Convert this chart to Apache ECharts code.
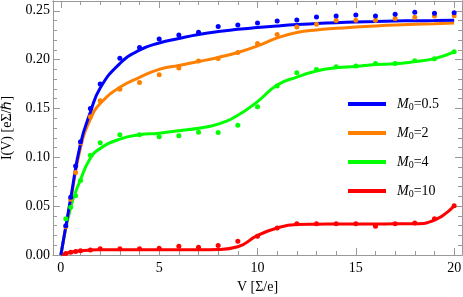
<!DOCTYPE html>
<html><head><meta charset="utf-8">
<script src="https://cdn.jsdelivr.net/npm/echarts@6/dist/echarts.min.js"></script>
<style>html,body{margin:0;padding:0;background:#fff}#c{width:463px;height:297px}</style>
</head><body><div id="c"></div><script>
// ---- data ----
var seriesNames = ['M0=0.5', 'M0=2', 'M0=4', 'M0=10'];
var legendLabels = ['0.5', '2', '4', '10'];
var colors = ['#0000ff', '#ff8000', '#00ff00', '#ff0000'];

var vDots = [0.25,0.5,0.75,1,1.5,2,3,4,5,6,7,8,9,10,11,12,13,14,15,16,17,18,19,20];
var dotsBlue   = [0.030,0.059,0.091,0.116,0.150,0.175,0.2015,0.2125,0.221,0.2253,0.228,0.234,0.2355,0.2376,0.2396,0.2406,0.2437,0.2447,0.2457,0.2447,0.2464,0.2485,0.2474,0.248];
var dotsOrange = [0.029,0.057,0.0845,0.115,0.1416,0.158,0.1696,0.1767,0.1845,0.1913,0.1985,0.2012,0.2073,0.2165,0.2257,0.2335,0.2362,0.240,0.2403,0.2403,0.242,0.2434,0.2447,0.245];
var dotsGreen  = [0.037,0.049,0.0607,0.0763,0.102,0.115,0.123,0.123,0.121,0.122,0.1257,0.1253,0.1328,0.1518,0.173,0.1865,0.190,0.1927,0.1934,0.196,0.196,0.1988,0.2008,0.208];
var dotsRed    = [0.0015,0.0028,0.0037,0.0043,0.005,0.0065,0.0065,0.0065,0.007,0.009,0.008,0.0097,0.0141,0.0192,0.0277,0.0321,0.0321,0.0321,0.0321,0.0294,0.0321,0.0328,0.037,0.0505];

var vLine = [0,0.5,1,1.5,2,3,4,5,6,7,8,9,10,11,12,13,14,15,16,17,18,19,20];
var lineBlue   = [0,0.058,0.114,0.146,0.171,0.196,0.2097,0.217,0.2216,0.2257,0.2288,0.231,0.2328,0.2345,0.2359,0.2369,0.2378,0.2385,0.239,0.2395,0.2398,0.240,0.2403];
var lineOrange = [0,0.056,0.110,0.139,0.155,0.1716,0.1818,0.190,0.194,0.198,0.2022,0.2073,0.214,0.2222,0.2277,0.2304,0.232,0.2333,0.2345,0.2355,0.2362,0.2368,0.2375];
var lineGreen  = [0,0.049,0.077,0.099,0.109,0.1186,0.123,0.1247,0.1273,0.1298,0.134,0.143,0.157,0.174,0.182,0.1883,0.1916,0.193,0.195,0.1957,0.198,0.201,0.208];
var lineRed    = [0,0.0028,0.0043,0.005,0.0053,0.0055,0.0055,0.0055,0.0055,0.0055,0.0057,0.0084,0.020,0.0277,0.0311,0.0315,0.0317,0.0318,0.0318,0.0319,0.032,0.0356,0.0505];

var xMajor = [0,5,10,15,20];
var xMinor = [0,1,2,3,4,5,6,7,8,9,10,11,12,13,14,15,16,17,18,19,20];
var yMajor = [0,0.05,0.10,0.15,0.20,0.25];
var yMinor = [0,0.01,0.02,0.03,0.04,0.05,0.06,0.07,0.08,0.09,0.10,0.11,0.12,0.13,0.14,0.15,0.16,0.17,0.18,0.19,0.20,0.21,0.22,0.23,0.24,0.25,0.26];

var xTitle = 'V [Σ/e]';
var yTitle = 'I(V) [eΣ/ℏ]';

// ---- chart ----
var FONT = 'Liberation Serif';
var frameColor = '#999';
var lines = [lineBlue, lineOrange, lineGreen, lineRed];
var dots = [dotsBlue, dotsOrange, dotsGreen, dotsRed];

function zip(xs, ys){ return xs.map(function(x,i){ return [x, ys[i]]; }); }

function xAx(pos, ticks, len, labels, withName){
  return {
    type:'value', position:pos, min:-0.4, max:20.4,
    axisLine:{show:true, onZero:false, lineStyle:{color:frameColor, width:1}},
    axisTick:{show:true, inside:true, length:len, customValues:ticks, lineStyle:{color:frameColor}},
    axisLabel:{show:!!labels, customValues:xMajor, margin:6, color:'#000', fontFamily:FONT, fontSize:14},
    splitLine:{show:false},
    name: withName ? xTitle : '', nameLocation:'middle', nameGap:25,
    nameTextStyle:{color:'#000', fontFamily:FONT, fontSize:14}
  };
}
function yAx(pos, ticks, len, labels, withName){
  return {
    type:'value', position:pos, min:0, max:0.26,
    axisLine:{show:true, onZero:false, lineStyle:{color:frameColor, width:1}},
    axisTick:{show:true, inside:true, length:len, customValues:ticks, lineStyle:{color:frameColor}},
    axisLabel:{show:!!labels, customValues:yMajor, margin:3, color:'#000', fontFamily:FONT, fontSize:14,
      formatter:function(v){ return v.toFixed(2); }},
    splitLine:{show:false},
    name: withName ? yTitle : '', nameLocation:'middle', nameGap:36,
    nameTextStyle:{color:'#000', fontFamily:FONT, fontSize:14}
  };
}

var series = [];
for (var k = 3; k >= 0; k--) {
  series.push({
    name: seriesNames[k], type:'line', data: zip(vLine, lines[k]),
    smooth:0.5, showSymbol:false, symbol:'none',
    lineStyle:{color:colors[k], width:3}, itemStyle:{color:colors[k]},
    z: 2, silent:true
  });
}
for (var k2 = 3; k2 >= 0; k2--) {
  series.push({
    name: seriesNames[k2] + ' data', type:'scatter', data: zip(vDots, dots[k2]),
    symbol:'circle', symbolSize:5, itemStyle:{color:colors[k2], opacity:1},
    z: 3, silent:true
  });
}

var labelMap = {};
seriesNames.forEach(function(n,i){ labelMap[n] = legendLabels[i]; });

var chart = echarts.init(document.getElementById('c'), null, {renderer:'canvas'});
chart.setOption({
  animation:false,
  backgroundColor:'#fff',
  grid:{left:53, right:1, top:1, bottom:42, containLabel:false, outerBoundsMode:'none'},
  xAxis:[ xAx('bottom', xMajor, 7, true, true), xAx('bottom', xMinor, 4, false, false),
          xAx('top', xMajor, 7, false, false), xAx('top', xMinor, 4, false, false) ],
  yAxis:[ yAx('left', yMajor, 7, true, true), yAx('left', yMinor, 4, false, false),
          yAx('right', yMajor, 7, false, false), yAx('right', yMinor, 4, false, false) ],
  legend:{
    data: seriesNames, orient:'vertical', left:343, top:91,
    icon:'rect', itemWidth:38, itemHeight:4, itemGap:13,
    selectedMode:false,
    formatter:function(name){ return '{i|M}{s|0}{t|=' + labelMap[name] + '}'; },
    textStyle:{
      color:'#000', fontFamily:FONT, fontSize:14,
      rich:{
        i:{fontFamily:FONT, fontStyle:'italic', fontSize:14, color:'#000', padding:[0,0,0,6], lineHeight:16},
        s:{fontFamily:FONT, fontSize:10, color:'#000', padding:[6,0,0,0], lineHeight:16},
        t:{fontFamily:FONT, fontSize:14, color:'#000', lineHeight:16}
      }
    }
  },
  series: series
});
</script></body></html>
